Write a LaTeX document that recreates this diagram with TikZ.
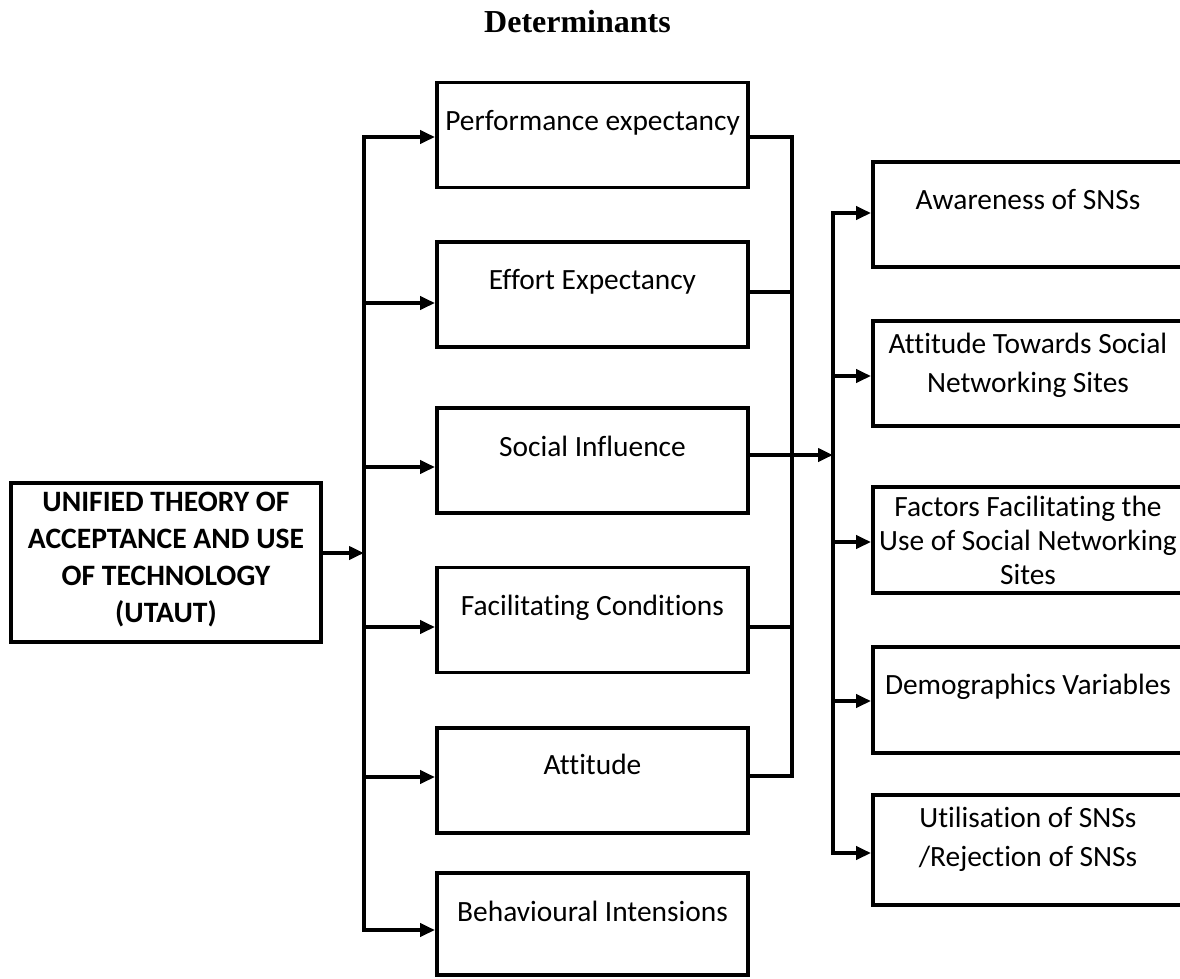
\documentclass[tikz,border=0pt]{standalone}
\usepackage{fontspec}
\setmainfont{Carlito}[RawFeature={-liga}]
\newfontfamily\titlefont{Liberation Serif}
\usetikzlibrary{arrows.meta}
\begin{document}
\begin{tikzpicture}[x=1pt,y=-1pt,
  box/.style={draw, line width=3.9pt, minimum width=311pt, inner sep=0pt},
  rbox/.style={box, minimum width=310pt},
  lbl/.style={font=\fontsize{29.4}{37}\selectfont, text height=20pt, text depth=6pt, inner sep=0pt},
  mlbl/.style={font=\fontsize{29.4}{39}\selectfont, align=center, inner sep=0pt},
  ttl/.style={font=\titlefont\bfseries\fontsize{32}{38}\selectfont, inner sep=0pt},
  conn/.style={line width=3.9pt},
  trunk/.style={line width=3.9pt, line cap=rect},
  arr/.style={line width=3.9pt, -{Triangle[length=15pt,width=13pt]}},
]
\useasboundingbox (0,0) rectangle (1180,978);
\fill[white] (0,0) rectangle (1180,978);
\clip (0,0) rectangle (1180,978);

% title
\node[ttl] (title) at (577.5,22) {Determinants};

% left box
\node[box, minimum width=310pt, minimum height=159pt] (ut) at (166,562.5) {};
\node[mlbl, font=\bfseries\fontsize{29.6}{37}\selectfont] (utt) at (166,560) {UNIFIED THEORY OF\\ACCEPTANCE AND USE\\OF TECHNOLOGY\\(UTAUT)};

% middle boxes
\node[box, minimum height=105pt] (pe) at (592.5,135) {};
\node[box, minimum height=105pt] (ee) at (592.5,294.5) {};
\node[box, minimum height=105pt] (si) at (592.5,460.5) {};
\node[box, minimum height=105pt] (fc) at (592.5,620) {};
\node[box, minimum height=105pt] (at) at (592.5,780.5) {};
\node[box, minimum height=102pt] (bi) at (592.5,924) {};

\node[lbl] (pet) at (592.5,123) {Performance expectancy};
\node[lbl] (eet) at (592.5,282) {Effort Expectancy};
\node[lbl] (sit) at (592.5,449) {Social Influence};
\node[lbl] (fct) at (592.5,608) {Facilitating Conditions};
\node[lbl] (att) at (592.5,767) {Attitude};
\node[lbl] (bit) at (592.5,914) {Behavioural Intensions};

% right boxes
\node[rbox, minimum height=105pt] (aw) at (1028,214.5) {};
\node[rbox, minimum height=105pt] (ats) at (1028,373.5) {};
\node[rbox, minimum height=106pt] (ff) at (1028,540) {};
\node[rbox, minimum height=106pt] (dv) at (1028,700) {};
\node[rbox, minimum height=110pt] (us) at (1028,850) {};

\node[lbl] (awt) at (1028,202) {Awareness of SNSs};
\node[mlbl] (atst) at (1028,365) {Attitude Towards Social\\Networking Sites};
\node[mlbl, font=\fontsize{29.4}{34}\selectfont] (fft) at (1028,540.5) {Factors Facilitating the\\Use of Social Networking\\Sites};
\node[lbl] (dvt) at (1028,687) {Demographics Variables};
\node[mlbl] (ust) at (1028,839) {Utilisation of SNSs\\/Rejection of SNSs};

% left trunk
\coordinate (lt1) at (364,137);
\coordinate (lt2) at (364,303);
\coordinate (lt3) at (364,467);
\coordinate (lt4) at (364,627);
\coordinate (lt5) at (364,777);
\coordinate (lt6) at (364,930);
\coordinate (ltin) at (364,553);
\draw[trunk] (lt1) -- (lt6);
\draw[arr] (ut.east |- ltin) -- (ltin);
\draw[arr] (lt1) -- (lt1 -| pe.west);
\draw[arr] (lt2) -- (lt2 -| ee.west);
\draw[arr] (lt3) -- (lt3 -| si.west);
\draw[arr] (lt4) -- (lt4 -| fc.west);
\draw[arr] (lt5) -- (lt5 -| at.west);
\draw[arr] (lt6) -- (lt6 -| bi.west);

% right collecting trunk
\coordinate (rt1) at (792,137);
\coordinate (rt2) at (792,292);
\coordinate (rt3) at (792,455);
\coordinate (rt4) at (792,627);
\coordinate (rt5) at (792,776);
\draw[trunk] (rt1) -- (rt5);
\draw[conn] (pe.east |- rt1) -- (rt1);
\draw[conn] (ee.east |- rt2) -- (rt2);
\draw[conn] (fc.east |- rt4) -- (rt4);
\draw[conn] (at.east |- rt5) -- (rt5);

% second trunk
\coordinate (st1) at (833,213);
\coordinate (st2) at (833,376);
\coordinate (st3) at (833,455);
\coordinate (st4) at (833,542);
\coordinate (st5) at (833,701);
\coordinate (st6) at (833,853);
\draw[trunk] (st1) -- (st6);
\draw[arr] (si.east |- rt3) -- (st3);
\draw[arr] (st1) -- (st1 -| aw.west);
\draw[arr] (st2) -- (st2 -| ats.west);
\draw[arr] (st4) -- (st4 -| ff.west);
\draw[arr] (st5) -- (st5 -| dv.west);
\draw[arr] (st6) -- (st6 -| us.west);
\end{tikzpicture}
\end{document}
